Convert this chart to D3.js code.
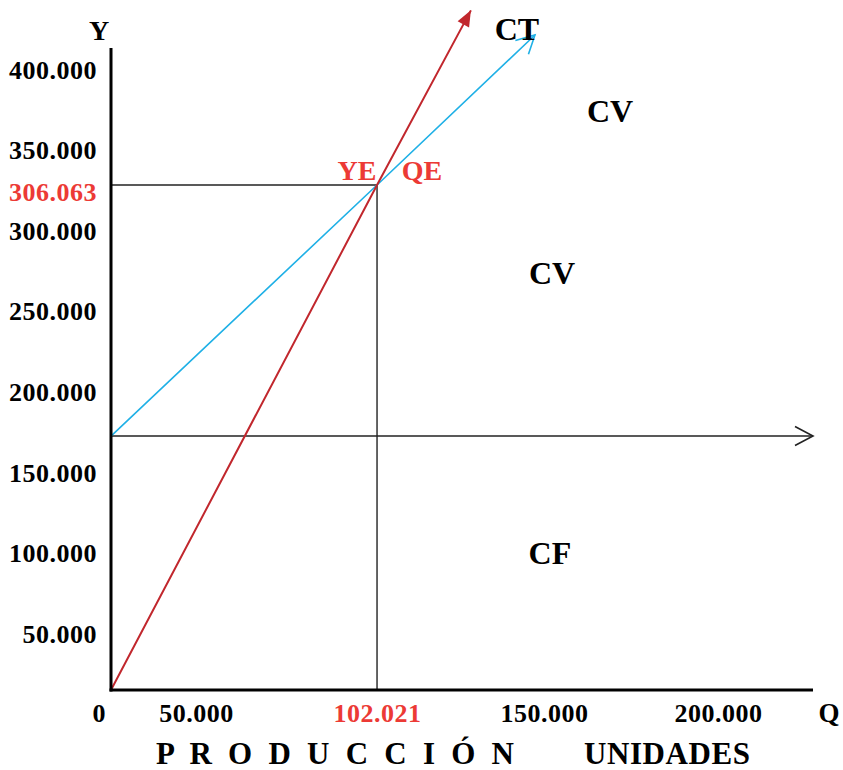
<!DOCTYPE html>
<html lang="es">
<head>
<meta charset="utf-8">
<script src="https://d3js.org/d3.v7.min.js"></script>
<style>
    body { margin: 0; background: #fff; }
    svg text { font-family: "Liberation Serif", "Times New Roman", serif; font-weight: bold; }
</style>
</head>
<body>
<script>
    // punto de equilibrio
    var QE = 102021, YE = 306063;
    var CF = 172800;

    var qTicks = [50000, QE, 150000, 200000];
    var yTicks = [50000, 100000, 150000, 200000, 250000, 300000, 350000, 400000];

    // lineas (Q, valor)
    var ingresos   = [[0, 0], [QE, YE], [129000, 437000]];
    var costoTotal = [[0, CF], [QE, YE], [147400, 421700]];
    var costoFijo  = [[0, CF], [227300, CF]];
    var qEnd = 227300, yTop = 413600;

    var regiones = [
        {t: "CT", q: 142200, v: 418600},
        {t: "CV", q: 169000, v: 367700},
        {t: "CV", q: 152300, v: 267100},
        {t: "CF", q: 151700, v: 93400}
    ];

    var width = 843, height = 770;
    var red = "#c1272d", redText = "#ec3a35", blue = "#1fb0e6";

    var svg = d3.select("body").append("svg")
        .attr("width", width)
        .attr("height", height);

    // el dibujo no es a escala: escalas por tramos
    var x = d3.scaleLinear()
        .domain([0, 50000, 200000])
        .range([111, 196, 718]);

    var y = d3.scaleLinear()
        .domain([0, 50000, 300000, YE, 350000, 400000])
        .range([690, 634, 231, 185, 150.6, 70]);

    var fmt = d3.formatLocale({decimal: ",", thousands: ".", grouping: [3], currency: ["", ""]}).format(",d");

    var defs = svg.append("defs");
    defs.append("marker")
        .attr("id", "tri")
        .attr("viewBox", "-17 -7 18 14")
        .attr("markerUnits", "userSpaceOnUse")
        .attr("markerWidth", 18).attr("markerHeight", 14)
        .attr("refX", 0).attr("refY", 0)
        .attr("orient", "auto")
        .append("path")
        .attr("d", "M-16,-6.5L0,0L-16,6.5Z")
        .attr("fill", red);

    function chevron(id, color) {
        defs.append("marker")
            .attr("id", id)
            .attr("viewBox", "-21 -12 24 24")
            .attr("markerUnits", "userSpaceOnUse")
            .attr("markerWidth", 24).attr("markerHeight", 24)
            .attr("refX", 0).attr("refY", 0)
            .attr("orient", "auto")
            .append("path")
            .attr("d", "M-18,-9.5L0,0L-18,9.5")
            .attr("fill", "none")
            .attr("stroke", color)
            .attr("stroke-width", 1.6);
    }
    chevron("chevBlue", blue);
    chevron("chevBlack", "#222");

    var line = d3.line()
        .x(function(d) { return x(d[0]); })
        .y(function(d) { return y(d[1]); });

    // guias del punto de equilibrio
    svg.append("line")
        .attr("x1", x(0)).attr("x2", x(QE))
        .attr("y1", y(YE)).attr("y2", y(YE))
        .attr("stroke", "#222").attr("stroke-width", 1.4);
    svg.append("line")
        .attr("x1", x(QE)).attr("x2", x(QE))
        .attr("y1", y(YE)).attr("y2", y(0))
        .attr("stroke", "#222").attr("stroke-width", 1.4);

    // costo fijo
    svg.append("path")
        .datum(costoFijo)
        .attr("d", line)
        .attr("fill", "none")
        .attr("stroke", "#222")
        .attr("stroke-width", 1.5)
        .attr("marker-end", "url(#chevBlack)");

    // costo total
    svg.append("path")
        .datum(costoTotal)
        .attr("d", line)
        .attr("fill", "none")
        .attr("stroke", blue)
        .attr("stroke-width", 1.6)
        .attr("marker-end", "url(#chevBlue)");

    // ingresos
    svg.append("path")
        .datum(ingresos)
        .attr("d", line)
        .attr("fill", "none")
        .attr("stroke", red)
        .attr("stroke-width", 2)
        .attr("marker-end", "url(#tri)");

    // ejes
    svg.append("line")
        .attr("x1", x(0)).attr("x2", x(0))
        .attr("y1", y(0) + 1.5).attr("y2", y(yTop))
        .attr("stroke", "#000").attr("stroke-width", 3);
    svg.append("line")
        .attr("x1", x(0) - 1.5).attr("x2", x(qEnd))
        .attr("y1", y(0)).attr("y2", y(0))
        .attr("stroke", "#000").attr("stroke-width", 3);

    var yAxis = svg.append("g")
        .attr("transform", "translate(" + x(0) + ",0)")
        .call(d3.axisLeft(y).tickValues(yTicks).tickSize(0).tickPadding(14).tickFormat(fmt));
    yAxis.select(".domain").remove();
    yAxis.attr("font-family", null).attr("font-size", null);
    yAxis.selectAll("text")
        .attr("font-size", 26)
        .attr("letter-spacing", 0.5)
        .attr("fill", "#000");

    var xAxis = svg.append("g")
        .attr("transform", "translate(0," + y(0) + ")")
        .call(d3.axisBottom(x).tickValues(qTicks).tickSize(0).tickPadding(14).tickFormat(fmt));
    xAxis.select(".domain").remove();
    xAxis.attr("font-family", null).attr("font-size", null);
    xAxis.selectAll("text")
        .attr("font-size", 26)
        .attr("letter-spacing", 0.5)
        .attr("fill", function(d) { return d === QE ? redText : "#000"; });

    // valor YE sobre el eje
    svg.append("text")
        .attr("x", x(0) - 14).attr("y", y(YE))
        .attr("dy", "0.62em")
        .attr("text-anchor", "end")
        .attr("font-size", 26)
        .attr("letter-spacing", 0.5)
        .attr("fill", redText)
        .text(fmt(YE));

    svg.append("text")
        .attr("x", x(0) - 12).attr("y", y(0) + 32)
        .attr("text-anchor", "middle")
        .attr("font-size", 26)
        .text("0");

    svg.append("text")
        .attr("x", x(0) - 12).attr("y", y(yTop) - 8)
        .attr("text-anchor", "middle")
        .attr("font-size", 28)
        .text("Y");

    svg.append("text")
        .attr("x", x(qEnd) + 16).attr("y", y(0) + 32)
        .attr("text-anchor", "middle")
        .attr("font-size", 27)
        .text("Q");

    // etiquetas YE / QE
    svg.append("text")
        .attr("x", x(QE) - 20).attr("y", y(YE) - 5)
        .attr("text-anchor", "middle")
        .attr("font-size", 28)
        .attr("fill", redText)
        .text("YE");
    svg.append("text")
        .attr("x", x(QE) + 45).attr("y", y(YE) - 5)
        .attr("text-anchor", "middle")
        .attr("font-size", 28)
        .attr("fill", redText)
        .text("QE");

    svg.selectAll(".region")
        .data(regiones)
        .enter()
        .append("text")
        .attr("class", "region")
        .attr("x", function(d) { return x(d.q); })
        .attr("y", function(d) { return y(d.v); })
        .attr("text-anchor", "middle")
        .attr("font-size", 32)
        .text(function(d) { return d.t; });

    // titulo del eje
    svg.append("text")
        .attr("x", 156).attr("y", 764)
        .attr("font-size", 31)
        .attr("textLength", 358)
        .attr("lengthAdjust", "spacing")
        .text("P R O D U C C I Ó N");
    svg.append("text")
        .attr("x", 584).attr("y", 764)
        .attr("font-size", 31)
        .attr("textLength", 166)
        .attr("lengthAdjust", "spacing")
        .text("UNIDADES");
</script>
</body>
</html>
